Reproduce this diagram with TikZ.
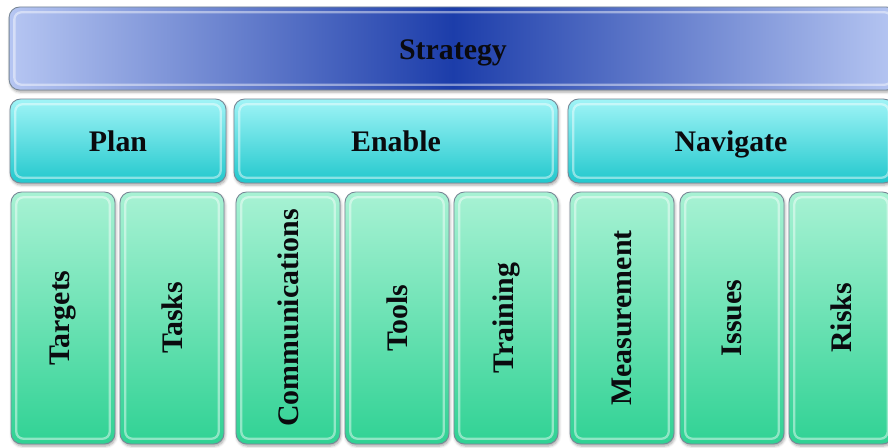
\documentclass[tikz,border=0pt]{standalone}
\usepackage{fontspec}
\setmainfont{Liberation Serif}
\usetikzlibrary{shadows.blur}

\definecolor{ink}{RGB}{10,10,14}
\definecolor{edge}{RGB}{120,135,150}
\definecolor{stratlight}{RGB}{182,198,242}
\definecolor{stratdark}{RGB}{28,61,170}
\definecolor{phaselight}{RGB}{160,244,247}
\definecolor{phasedark}{RGB}{34,200,205}
\definecolor{itemlight}{RGB}{168,242,212}
\definecolor{itemdark}{RGB}{48,210,148}

\tikzset{
    gloss/.style={
        rounded corners=6pt,
        draw=edge,
        line width=0.5pt,
        blur shadow={shadow xshift=0.5pt, shadow yshift=-1.2pt,
            shadow opacity=35, shadow blur radius=1.5pt},
        path picture={
            \draw[white, opacity=0.45, line width=1.3pt, rounded corners=4pt]
                ([xshift=3pt, yshift=-3pt]path picture bounding box.north west)
                rectangle ([xshift=-3pt, yshift=3pt]path picture bounding box.south east);
        },
        font=\fontsize{17}{20}\selectfont\bfseries,
        text=ink,
        inner sep=0pt
    },
    flatline/.style={text height=14pt, text depth=1.6pt},
    strategybox/.style={
        gloss, flatline,
        left color=stratlight, right color=stratlight, middle color=stratdark,
        minimum width=17.76cm, minimum height=1.66cm
    },
    phasebox/.style={
        gloss, flatline,
        top color=phaselight, bottom color=phasedark,
        minimum height=1.68cm
    },
    itembox/.style={
        gloss,
        top color=itemlight, bottom color=itemdark,
        minimum width=2.08cm, minimum height=5.04cm
    }
}

\begin{document}
\begin{tikzpicture}[x=0.02cm, y=-0.02cm]
\useasboundingbox (0,0) rectangle (888,448);
\clip (0,0) rectangle (888,448);

% top bar
\node[strategybox] (strategy) at (453,48.5) {Strategy};

% phases
\node[phasebox, minimum width=4.32cm] (plan) at (118,141) {Plan};
\node[phasebox, minimum width=6.48cm] (enable) at (396,141) {Enable};
\node[phasebox, minimum width=6.52cm] (navigate) at (731,141) {Navigate};

% items under each phase
\foreach \x/\name/\txt in {63/targets/Targets, 172/tasks/Tasks,
        288/comms/Communications, 397/tools/Tools, 506/training/Training,
        622/measurement/Measurement, 732/issues/Issues, 841/risks/Risks} {
    \node[itembox] (\name) at (\x,318) {\rotatebox{90}{\txt}};
}
\end{tikzpicture}
\end{document}
